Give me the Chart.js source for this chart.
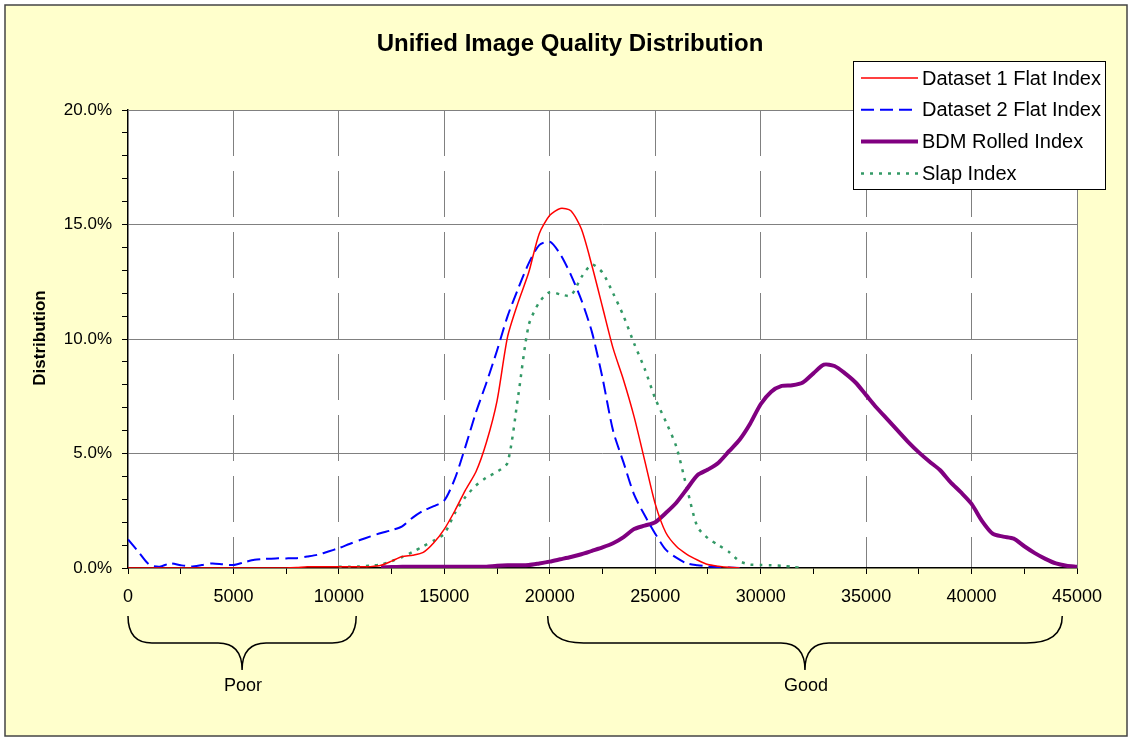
<!DOCTYPE html>
<html><head><meta charset="utf-8">
<script src="https://cdn.jsdelivr.net/npm/chart.js@4/dist/chart.umd.min.js"></script>
<style>html,body{margin:0;padding:0;background:#fff}#wrap{position:relative;width:1130px;height:738px}</style>
</head><body><div id="wrap"><canvas id="c" width="1130" height="738"></canvas></div>
<script>
const chartTitle = 'Unified Image Quality Distribution';
const yAxisTitle = 'Distribution';
const seriesNames = ['Dataset 1 Flat Index', 'Dataset 2 Flat Index', 'BDM Rolled Index', 'Slap Index'];
const xValues = [0,500,1000,1500,2000,2500,3000,3500,4000,4500,5000,5500,6000,6500,7000,7500,8000,8500,9000,9500,
  10000,10500,11000,11500,12000,12500,13000,13500,14000,14500,15000,15500,16000,16500,17000,17500,18000,18500,19000,19500,
  20000,20500,21000,21500,22000,22500,23000,23500,24000,24500,25000,25500,26000,26500,27000,27500,28000,28500,29000,29500,
  30000,30500,31000,31500,32000,32500,33000,33500,34000,34500,35000,35500,36000,36500,37000,37500,38000,38500,39000,39500,
  40000,40500,41000,41500,42000,42500,43000,43500,44000,44500,45000];
const dataset1Flat = [0,0,0,0,0,0,0,0,0,0,0,0,0,0,0,0,0.02,0.05,0.05,0.05,
  0.05,0.05,0.05,0.06,0.12,0.3,0.5,0.56,0.68,1.1,1.7,2.5,3.4,4.2,5.5,7.3,10.1,11.6,12.9,14.6,
  15.4,15.7,15.6,14.8,13.2,11.4,9.6,8.2,6.6,4.7,2.8,1.55,0.95,0.6,0.35,0.15,0.08,0.03,0,null,
  null,null,null,null,null,null,null,null,null,null,null,null,null,null,null,null,null,null,null,null,
  null,null,null,null,null,null,null,null,null,null,null];
const dataset2Flat = [1.25,0.7,0.15,0.06,0.2,0.12,0.07,0.13,0.2,0.16,0.13,0.25,0.36,0.4,0.42,0.42,0.43,0.5,0.58,0.72,
  0.87,1.05,1.22,1.38,1.53,1.65,1.82,2.2,2.5,2.7,2.95,3.9,5.3,6.8,8.1,9.5,11.0,12.2,13.3,14.1,
  14.25,13.7,12.8,11.7,10.3,8.3,6.0,4.6,3.2,2.3,1.5,0.8,0.45,0.2,0.12,0.07,0.04,0.02,0,null,
  null,null,null,null,null,null,null,null,null,null,null,null,null,null,null,null,null,null,null,null,
  null,null,null,null,null,null,null,null,null,null,null];
const bdmRolled = [null,null,null,null,null,null,null,null,null,null,null,null,null,null,null,null,null,null,null,null,
  null,null,null,null,0.03,0.04,0.05,0.05,0.05,0.05,0.05,0.05,0.05,0.05,0.06,0.1,0.12,0.12,0.13,0.2,
  0.28,0.38,0.48,0.6,0.75,0.9,1.08,1.35,1.7,1.85,2.0,2.4,2.85,3.45,4.05,4.3,4.6,5.1,5.6,6.3,
  7.15,7.7,7.95,7.98,8.1,8.5,8.88,8.82,8.5,8.1,7.55,7.0,6.5,6.0,5.5,5.05,4.65,4.28,3.75,3.3,
  2.8,2.05,1.5,1.37,1.28,0.95,0.65,0.4,0.2,0.1,0.05];
const slapIndex = [null,null,null,null,null,null,null,null,null,null,null,null,null,null,null,null,null,null,null,null,
  0.05,0.05,0.07,0.1,0.15,0.3,0.48,0.7,0.95,1.2,1.5,2.4,3.1,3.6,3.95,4.2,4.6,7.5,10.6,11.6,
  12.05,11.95,11.9,12.7,13.25,12.9,12.0,11.0,9.8,8.7,7.4,6.4,5.3,3.5,1.8,1.3,1.0,0.7,0.3,0.15,
  0.13,0.12,0.1,0.05,0,null,null,null,null,null,null,null,null,null,null,null,null,null,null,null,
  null,null,null,null,null,null,null,null,null,null,null];
const braceLabels = ['Poor', 'Good'];
const braceRanges = [[0, 10820], [19900, 44300]];

const FONT = "'Liberation Sans', Arial, sans-serif";
Chart.defaults.font.family = FONT;
Chart.defaults.color = '#000';

function pts(arr){ return xValues.map((x,i)=>({x:x, y:arr[i]})); }

const decorPlugin = {
  id: 'decor',
  beforeDraw(chart){
    const ctx = chart.ctx, a = chart.chartArea;
    ctx.save();
    ctx.fillStyle = '#ffffff';
    ctx.fillRect(0,0,chart.width,chart.height);
    ctx.fillStyle = '#FFFFCC';
    ctx.fillRect(5,5,1122,731);
    ctx.strokeStyle = '#444';
    ctx.lineWidth = 1.5;
    ctx.strokeRect(5,5,1122,731);
    ctx.fillStyle = '#ffffff';
    ctx.fillRect(a.left, a.top, a.right-a.left, a.bottom-a.top);
    ctx.restore();
  },
  beforeDatasetsDraw(chart){
    const ctx = chart.ctx, a = chart.chartArea;
    ctx.save();
    ctx.strokeStyle = '#808080';
    ctx.lineWidth = 1;
    ctx.beginPath();
    ctx.moveTo(a.left, a.top+0.5); ctx.lineTo(a.right+0.5, a.top+0.5); ctx.lineTo(a.right+0.5, a.bottom);
    ctx.stroke();
    ctx.restore();
  },
  afterDraw(chart){
    const ctx = chart.ctx;
    const xs = chart.scales.x;
    ctx.save();
    ctx.fillStyle = '#000';
    ctx.font = 'bold 24px ' + FONT;
    ctx.textAlign = 'center'; ctx.textBaseline = 'middle';
    ctx.fillText(chartTitle, 570, 44);
    ctx.save();
    ctx.translate(40, 338);
    ctx.rotate(-Math.PI/2);
    ctx.font = 'bold 17px ' + FONT;
    ctx.fillText(yAxisTitle, 0, 0);
    ctx.restore();
    ctx.strokeStyle = '#000';
    ctx.lineWidth = 1.5;
    braceRanges.forEach((r, i) => {
      const x0 = xs.getPixelForValue(r[0]), x1 = xs.getPixelForValue(r[1]);
      const xm = (x0 + x1) / 2;
      const yt = 616, yh = 643, yb = 670;
      const rr = i === 0 ? 24 : 36, rm = 24;
      ctx.beginPath();
      ctx.moveTo(x0, yt);
      ctx.quadraticCurveTo(x0, yh, x0 + rr, yh);
      ctx.lineTo(xm - rm, yh);
      ctx.quadraticCurveTo(xm, yh, xm, yb);
      ctx.quadraticCurveTo(xm, yh, xm + rm, yh);
      ctx.lineTo(x1 - rr, yh);
      ctx.quadraticCurveTo(x1, yh, x1, yt);
      ctx.stroke();
      ctx.font = '18px ' + FONT;
      ctx.textAlign = 'center'; ctx.textBaseline = 'middle';
      ctx.fillText(braceLabels[i], xm + 1, 686);
    });
    const lx = 853, ly = 61, lw = 252, lh = 128;
    ctx.fillStyle = '#fff';
    ctx.fillRect(lx, ly, lw, lh);
    ctx.strokeStyle = '#000';
    ctx.lineWidth = 1;
    ctx.strokeRect(lx+0.5, ly+0.5, lw, lh);
    chart.data.datasets.forEach((ds, i) => {
      const y = 78 + i * 31.8;
      ctx.save();
      ctx.strokeStyle = ds.borderColor;
      ctx.lineWidth = ds.borderWidth;
      ctx.setLineDash(ds.borderDash || []);
      ctx.beginPath();
      ctx.moveTo(861, y); ctx.lineTo(918, y);
      ctx.stroke();
      ctx.restore();
      ctx.fillStyle = '#000';
      ctx.font = '20px ' + FONT;
      ctx.textAlign = 'left'; ctx.textBaseline = 'middle';
      ctx.fillText(ds.label, 922, y + 1);
    });
    ctx.restore();
  }
};

new Chart(document.getElementById('c'), {
  type: 'line',
  data: {
    datasets: [
      { label: seriesNames[0], data: pts(dataset1Flat), borderColor: '#FF0000', borderWidth: 1.5, tension: 0.25 },
      { label: seriesNames[1], data: pts(dataset2Flat), borderColor: '#0000FF', borderWidth: 2, borderDash: [13, 6], tension: 0.25 },
      { label: seriesNames[2], data: pts(bdmRolled), borderColor: '#800080', borderWidth: 4, tension: 0.25 },
      { label: seriesNames[3], data: pts(slapIndex), borderColor: '#339966', borderWidth: 2.5, borderDash: [3, 6], tension: 0.25 }
    ]
  },
  options: {
    responsive: false,
    animation: false,
    devicePixelRatio: 1,
    layout: { padding: { left: 0, top: 110, right: 53, bottom: 0 } },
    elements: { point: { radius: 0 }, line: { fill: false, borderCapStyle: 'butt' } },
    plugins: { legend: { display: false }, title: { display: false }, tooltip: { enabled: false } },
    scales: {
      x: {
        type: 'linear', min: 0, max: 45000,
        afterFit(s){ s.height = 170; },
        ticks: {
          stepSize: 2500, autoSkip: false, maxRotation: 0, padding: 12,
          font: { size: 18 }, color: '#000',
          callback: v => (v % 5000 === 0 ? String(v) : '')
        },
        grid: {
          color: c => (c.tick && c.tick.value % 5000 === 0 && c.tick.value !== 0 && c.tick.value !== 45000) ? '#808080' : 'rgba(0,0,0,0)',
          tickColor: '#000', tickLength: 6, lineWidth: 1
        },
        border: { color: '#000', width: 1.5, dash: [46, 15] }
      },
      y: {
        min: 0, max: 20,
        afterFit(s){ s.width = 128; },
        ticks: {
          stepSize: 1, autoSkip: false, padding: 10,
          font: { size: 17 }, color: '#000',
          callback: v => (v % 5 === 0 ? v.toFixed(1) + '%' : '')
        },
        grid: {
          color: c => (c.tick && c.tick.value % 5 === 0 && c.tick.value !== 0) ? '#808080' : 'rgba(0,0,0,0)',
          tickColor: '#000', tickLength: 6, lineWidth: 1
        },
        border: { color: '#000', width: 1.5 }
      }
    }
  },
  plugins: [decorPlugin]
});
</script></body></html>
